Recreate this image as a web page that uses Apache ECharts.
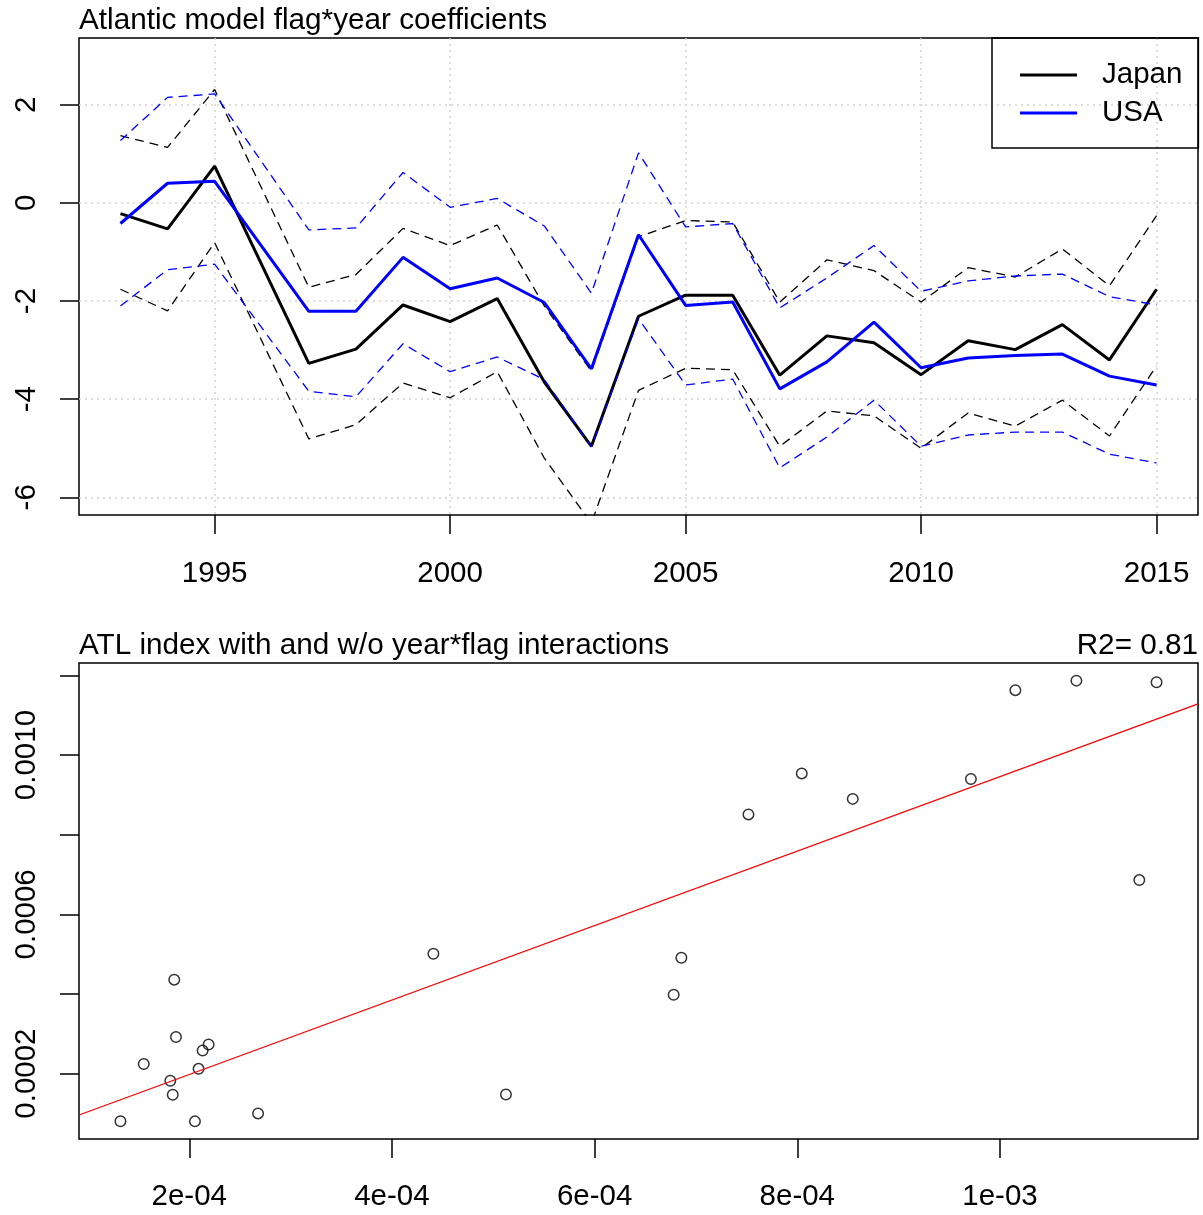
<!DOCTYPE html>
<html>
<head>
<meta charset="utf-8">
<title>Atlantic model flag*year coefficients</title>
<script src="https://cdn.jsdelivr.net/npm/echarts@6/dist/echarts.min.js"></script>
<style>
    html, body { margin: 0; padding: 0; background: #fff; }
    #chart { width: 1203px; height: 1215px; }
</style>
</head>
<body>
<div id="chart"></div>
<script>
// top panel: flag*year coefficients (no 1996 in the model, lines join 1995-1997)
const years = [1993, 1994, 1995, 1997, 1998, 1999, 2000, 2001, 2002, 2003, 2004,
    2005, 2006, 2007, 2008, 2009, 2010, 2011, 2012, 2013, 2014, 2015];
const japan = [-0.22, -0.53, 0.75, -3.27, -2.98, -2.08, -2.42, -1.95, -3.65, -4.96, -2.31,
    -1.88, -1.88, -3.51, -2.71, -2.85, -3.5, -2.81, -2.99, -2.48, -3.2, -1.76];
const japanUpper = [1.37, 1.13, 2.31, -1.72, -1.46, -0.52, -0.87, -0.45, -2.1, -3.43, -0.69,
    -0.36, -0.39, -2.02, -1.16, -1.38, -2.02, -1.32, -1.51, -0.94, -1.69, -0.26];
const japanLower = [-1.76, -2.2, -0.81, -4.81, -4.52, -3.67, -3.97, -3.44, -5.2, -6.53, -3.82,
    -3.37, -3.4, -4.96, -4.24, -4.34, -5.0, -4.28, -4.55, -4.02, -4.75, -3.32];
const usa = [-0.42, 0.4, 0.44, -2.21, -2.21, -1.11, -1.75, -1.53, -2.03, -3.38, -0.65,
    -2.09, -2.02, -3.79, -3.24, -2.43, -3.36, -3.16, -3.11, -3.08, -3.53, -3.71];
const usaUpper = [1.27, 2.15, 2.22, -0.55, -0.51, 0.62, -0.09, 0.09, -0.47, -1.84, 1.02,
    -0.49, -0.42, -2.14, -1.53, -0.87, -1.8, -1.59, -1.49, -1.45, -1.91, -2.08];
const usaLower = [-2.1, -1.36, -1.25, -3.84, -3.95, -2.87, -3.44, -3.14, -3.6, -4.97, -2.36,
    -3.71, -3.59, -5.4, -4.77, -4.02, -4.96, -4.73, -4.67, -4.67, -5.12, -5.3];
const yearTicks = [1995, 2000, 2005, 2010, 2015];
const coefTicks = [-6, -4, -2, 0, 2];
const coefLimits = [-6, 3];

// bottom panel: index without (x) and with (y) year*flag interactions
const indexNoInter = [1.321e-4, 1.852e-4, 1.869e-4, 1.551e-4, 1.813e-4, 1.837e-4, 2.092e-4,
    2.132e-4, 2.191e-4, 2.056e-4, 2.679e-4, 4.409e-4, 5.125e-4, 6.856e-4, 6.78e-4, 7.518e-4,
    8.044e-4, 8.547e-4, 9.713e-4, 10.152e-4, 10.754e-4, 11.545e-4, 11.375e-4];
const indexInter = [0.802e-4, 4.36e-4, 2.92e-4, 2.24e-4, 1.82e-4, 1.47e-4, 2.12e-4,
    2.58e-4, 2.73e-4, 0.80e-4, 1.0e-4, 5.01e-4, 1.475e-4, 4.91e-4, 3.98e-4, 8.51e-4,
    9.54e-4, 8.90e-4, 9.40e-4, 11.63e-4, 11.87e-4, 11.83e-4, 6.86e-4];
const xTicks = [2e-4, 4e-4, 6e-4, 8e-4, 1e-3];
const xTickLabels = ['2e-04', '4e-04', '6e-04', '8e-04', '1e-03'];
const yTicks = [2e-4, 4e-4, 6e-4, 8e-4, 1e-3, 1.2e-3];
const yTickLabels = [2e-4, 6e-4, 1e-3];
const r2Text = 'R2= 0.81';

// R style 4% axis padding
const pad = (lo, hi) => [lo - 0.04 * (hi - lo), hi + 0.04 * (hi - lo)];
const pairs = (xs, ys) => xs.map((x, i) => [x, ys[i]]);

const topX = pad(Math.min(...years), Math.max(...years));
const topY = pad(coefLimits[0], coefLimits[1]);
const botX = pad(Math.min(...indexNoInter), Math.max(...indexNoInter));
const botY = pad(Math.min(...indexInter), Math.max(...indexInter));

// least squares line, like abline(lm(y ~ x))
const n = indexNoInter.length;
const mx = indexNoInter.reduce((a, b) => a + b, 0) / n;
const my = indexInter.reduce((a, b) => a + b, 0) / n;
let sxy = 0, sxx = 0;
indexNoInter.forEach((x, i) => {
    sxy += (x - mx) * (indexInter[i] - my);
    sxx += (x - mx) * (x - mx);
});
const slope = sxy / sxx;
const intercept = my - slope * mx;
const fitLine = botX.map(x => [x, intercept + slope * x]);

const font = '"Liberation Sans", Arial, sans-serif';
const txt = { fontSize: 29.5, color: '#000', fontFamily: font, fontWeight: 'normal' };
const titleTxt = Object.assign({}, txt, { fontSize: 29.7 });
const tick = (values) => ({ show: true, length: 19, customValues: values, lineStyle: { color: '#000', width: 1.5 } });
const gridLine = { show: true, lineStyle: { color: '#d3d3d3', type: [2, 4], width: 1.5 } };

const dashed = (name, data, color) => ({
    name: name,
    type: 'line',
    xAxisIndex: 0,
    yAxisIndex: 0,
    data: pairs(years, data),
    symbol: 'none',
    silent: true,
    lineStyle: { color: color, width: 1.3, type: [9, 6] },
});

const chart = echarts.init(document.getElementById('chart'));
chart.setOption({
    animation: false,
    backgroundColor: '#fff',
    title: [
        { text: 'Atlantic model flag*year coefficients', left: 79, top: 6, padding: 0, textStyle: titleTxt },
        { text: 'ATL index with and w/o year*flag interactions', left: 79, top: 631, padding: 0, textStyle: titleTxt },
        { text: r2Text, right: 5, top: 631, padding: 0, textStyle: titleTxt },
    ],
    legend: {
        data: ['Japan', 'USA'],
        orient: 'vertical',
        left: 992,
        top: 38,
        padding: [22, 16, 20, 28],
        icon: 'rect',
        itemWidth: 57,
        itemHeight: 3,
        itemGap: 8,
        borderColor: '#000',
        borderWidth: 1.5,
        selectedMode: false,
        textStyle: Object.assign({}, txt, { padding: [0, 0, 0, 20], width: 78 }),
    },
    grid: [
        { left: 79, right: 5, top: 38, height: 477, show: true, borderColor: '#000', borderWidth: 1.5 },
        { left: 79, right: 5, top: 663, height: 476, show: true, borderColor: '#000', borderWidth: 1.5 },
    ],
    xAxis: [
        {
            gridIndex: 0, type: 'value', min: topX[0], max: topX[1],
            axisLine: { show: false, onZero: false },
            axisTick: tick(yearTicks),
            axisLabel: Object.assign({}, txt, { margin: 44, customValues: yearTicks, formatter: v => String(v) }),
            splitLine: gridLine,
        },
        {
            gridIndex: 1, type: 'value', min: botX[0], max: botX[1],
            axisLine: { show: false, onZero: false },
            axisTick: tick(xTicks),
            axisLabel: Object.assign({}, txt, {
                margin: 43,
                customValues: xTicks,
                formatter: v => xTickLabels[xTicks.findIndex(t => Math.abs(t - v) < 1e-9)],
            }),
            splitLine: { show: false },
        },
    ],
    yAxis: [
        {
            gridIndex: 0, type: 'value', min: topY[0], max: topY[1],
            axisLine: { show: false, onZero: false },
            axisTick: tick(coefTicks),
            axisLabel: Object.assign({}, txt, { rotate: 90, margin: 37, customValues: coefTicks }),
            splitLine: gridLine,
        },
        {
            gridIndex: 1, type: 'value', min: botY[0], max: botY[1],
            axisLine: { show: false, onZero: false },
            axisTick: tick(yTicks),
            axisLabel: Object.assign({}, txt, {
                rotate: 90, margin: 37, customValues: yTickLabels,
                formatter: v => v.toFixed(4),
            }),
            splitLine: { show: false },
        },
    ],
    series: [
        {
            name: 'Japan', type: 'line', xAxisIndex: 0, yAxisIndex: 0,
            data: pairs(years, japan), symbol: 'none', silent: true,
            lineStyle: { color: '#000', width: 3 }, itemStyle: { color: '#000' },
        },
        dashed('Japan upper', japanUpper, '#000'),
        dashed('Japan lower', japanLower, '#000'),
        dashed('USA upper', usaUpper, '#0000ff'),
        dashed('USA lower', usaLower, '#0000ff'),
        {
            name: 'USA', type: 'line', xAxisIndex: 0, yAxisIndex: 0,
            data: pairs(years, usa), symbol: 'none', silent: true,
            lineStyle: { color: '#0000ff', width: 3 }, itemStyle: { color: '#0000ff' },
        },
        {
            name: 'index', type: 'scatter', xAxisIndex: 1, yAxisIndex: 1,
            data: pairs(indexNoInter, indexInter),
            symbol: 'circle', symbolSize: 10.5, silent: true,
            itemStyle: { color: 'rgba(0,0,0,0)', borderColor: '#000', borderWidth: 1.5 },
        },
        {
            name: 'fit', type: 'line', xAxisIndex: 1, yAxisIndex: 1,
            data: fitLine, symbol: 'none', silent: true,
            lineStyle: { color: '#ff0000', width: 1.3 },
        },
    ],
});
</script>
</body>
</html>
